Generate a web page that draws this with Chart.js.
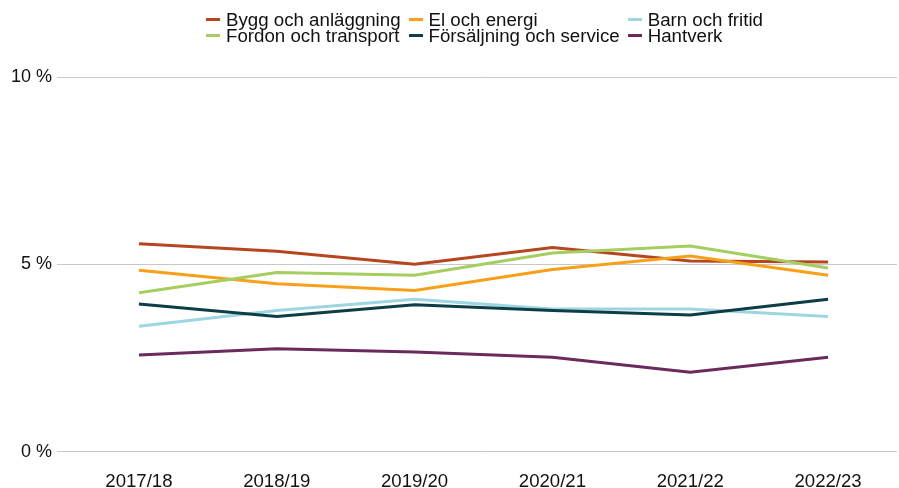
<!doctype html>
<html>
<head>
<meta charset="utf-8" />
<style>
  body { margin:0; background:#fff; font-family: "Liberation Sans", Arial, sans-serif; }
  .wrap { position: relative; width: 899px; height: 488px; }
  canvas { position: absolute; left: 0; top: 0; }
  .legend {
    position: absolute; left: 206px; top: 12px;
    display: grid; grid-template-columns: auto auto auto; column-gap: 8px;
    font-size: 18.7px; line-height: 15.5px; color: #111;
  }
  .item { display: flex; align-items: center; white-space: nowrap; }
  .sw { width: 14px; height: 3px; margin-right: 6px; }
</style>
</head>
<body>
<div class="wrap">
  <canvas id="c" width="899" height="488"></canvas>
  <div class="legend" id="legend"></div>
</div>
<script src="https://cdn.jsdelivr.net/npm/chart.js"></script>
<script>
// school years
const categories = ["2017/18", "2018/19", "2019/20", "2020/21", "2021/22", "2022/23"];

// share in percent
const bygg = [5.55, 5.35, 5.0, 5.45, 5.09, 5.06];
const el = [4.84, 4.48, 4.30, 4.86, 5.22, 4.71];
const barn = [3.35, 3.77, 4.07, 3.81, 3.81, 3.61];
const fordon = [4.24, 4.78, 4.71, 5.30, 5.49, 4.90];
const forsaljning = [3.94, 3.61, 3.92, 3.77, 3.65, 4.07];
const hantverk = [2.58, 2.75, 2.66, 2.52, 2.12, 2.52];

const yTicks = [0, 5, 10];

const series = [
  { label: "Bygg och anläggning", data: bygg, color: "#b5461f" },
  { label: "El och energi", data: el, color: "#f8a01a" },
  { label: "Barn och fritid", data: barn, color: "#9dd5e1" },
  { label: "Fordon och transport", data: fordon, color: "#a5cd60" },
  { label: "Försäljning och service", data: forsaljning, color: "#0d3e46" },
  { label: "Hantverk", data: hantverk, color: "#6a2a5b" },
];

const family = "'Liberation Sans', Arial, sans-serif";

new Chart(document.getElementById("c"), {
  type: "line",
  data: {
    labels: categories,
    datasets: series.map((s, i) => ({
      label: s.label,
      data: s.data,
      borderColor: s.color,
      backgroundColor: s.color,
      borderWidth: 3,
      pointRadius: 0,
      tension: 0,
      order: series.length - 1 - i, // last series on top
    })),
  },
  options: {
    responsive: false,
    animation: false,
    layout: { padding: { top: 77, left: 6, right: 2, bottom: -16 } },
    plugins: { legend: { display: false }, tooltip: { enabled: false } },
    scales: {
      x: {
        offset: true,
        grid: { display: false },
        border: { display: false },
        ticks: { color: "#111", font: { family, size: 18.6 }, padding: 11, maxRotation: 0 },
      },
      y: {
        min: 0,
        max: 10,
        afterBuildTicks: (axis) => { axis.ticks = yTicks.map((v) => ({ value: v })); },
        grid: { color: "#c8c8c8", lineWidth: 1, tickLength: 13 },
        border: { display: false },
        ticks: { color: "#111", font: { family, size: 18 }, padding: 5, callback: (v) => v + " %" },
      },
    },
  },
});

// html legend laid out as a grid like the original
const legend = document.getElementById("legend");
series.forEach((s) => {
  const item = document.createElement("div");
  item.className = "item";
  const sw = document.createElement("span");
  sw.className = "sw";
  sw.style.background = s.color;
  const t = document.createElement("span");
  t.textContent = s.label;
  item.appendChild(sw);
  item.appendChild(t);
  legend.appendChild(item);
});
</script>
</body>
</html>
